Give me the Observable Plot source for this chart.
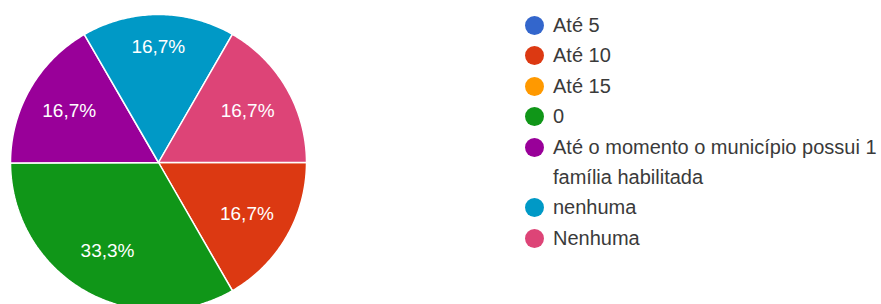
<!DOCTYPE html>
<html>
<head>
<meta charset="utf-8">
<script src="https://cdn.jsdelivr.net/npm/d3@7"></script>
<script src="https://cdn.jsdelivr.net/npm/@observablehq/plot@0.6"></script>
<style>
  html, body { margin: 0; padding: 0; background: #fff; }
  #wrap { position: relative; width: 881px; height: 304px; overflow: hidden; font-family: "Liberation Sans", Arial, sans-serif; }
  #chart { position: absolute; left: 0; top: 0; }
  #legend { position: absolute; left: 525px; top: 10px; color: #3a3a3a; font-size: 20px; }
  .item { display: flex; align-items: flex-start; line-height: 30.4px; }
  .sw { width: 19px; height: 19px; border-radius: 50%; margin-top: 6px; margin-right: 9px; flex: none; }
  .lab { width: 328px; }
</style>
</head>
<body>
<div id="wrap"><div id="chart"></div><div id="legend"></div></div>
<script>
const categories = ["Até 5", "Até 10", "Até 15", "0", "Até o momento o município possui 1 família habilitada", "nenhuma", "Nenhuma"];
const percentages = [0, 16.7, 0, 33.3, 16.7, 16.7, 16.7];
const percentLabels = ["0%", "16,7%", "0%", "33,3%", "16,7%", "16,7%", "16,7%"];
const colors = ["#3366cc", "#dc3912", "#ff9900", "#109618", "#990099", "#0099c6", "#dd4477"];

// slice geometry: angles clockwise from 12 o'clock, first slice starting at 3 o'clock
const total = d3.sum(percentages);
const startAngle = Math.PI / 2;
let acc = startAngle;
const slices = [];
categories.forEach((c, i) => {
  const a0 = acc, a1 = acc + percentages[i] / total * 2 * Math.PI;
  acc = a1;
  if (percentages[i] > 0) slices.push({cat: c, a0, a1, label: percentLabels[i]});
});
const pts = [];
for (const s of slices) {
  pts.push({cat: s.cat, x: 0, y: 0});
  const n = 80;
  for (let k = 0; k <= n; k++) {
    const a = s.a0 + (s.a1 - s.a0) * k / n;
    pts.push({cat: s.cat, x: Math.sin(a), y: Math.cos(a)});
  }
  pts.push({cat: s.cat, x: 0, y: 0});
}
const labels = slices.map(s => {
  const m = (s.a0 + s.a1) / 2;
  const lr = 0.69 + 0.09 * Math.pow(Math.max(0, Math.cos(m)), 4);
  return {cat: s.cat, label: s.label, x: lr * Math.sin(m), y: lr * Math.cos(m)};
});

const plot = Plot.plot({
  width: 881, height: 304,
  margin: 0,
  x: {domain: [-1, 1], range: [10, 306], axis: null},
  y: {domain: [-1, 1], range: [310, 14], axis: null},
  color: {domain: categories, range: colors},
  style: {fontFamily: "'Liberation Sans', Arial, sans-serif", background: "transparent"},
  marks: [
    Plot.line(pts, {x: "x", y: "y", z: "cat", fill: "cat", stroke: "white", strokeWidth: 1.5, strokeLinejoin: "round", curve: "linear"}),
    Plot.text(labels, {x: "x", y: "y", text: "label", fill: "white", fontSize: 19})
  ]
});
document.getElementById("chart").appendChild(plot);

const legend = document.getElementById("legend");
categories.forEach((c, i) => {
  const it = document.createElement("div");
  it.className = "item";
  const sw = document.createElement("div");
  sw.className = "sw";
  sw.style.background = colors[i];
  const lab = document.createElement("div");
  lab.className = "lab";
  lab.textContent = c;
  it.appendChild(sw);
  it.appendChild(lab);
  legend.appendChild(it);
});
</script>
</body>
</html>
